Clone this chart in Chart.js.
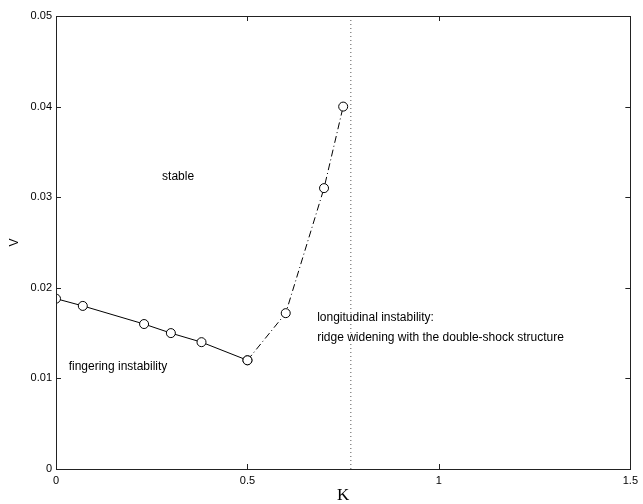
<!DOCTYPE html>
<html>
<head>
<meta charset="utf-8">
<script src="https://cdn.jsdelivr.net/npm/chart.js@4.4.1/dist/chart.umd.min.js"></script>
<style>
  html, body { margin: 0; padding: 0; background: #fff; }
  #wrap { width: 643px; height: 504px; }
</style>
</head>
<body>
<div id="wrap"><canvas id="chart"></canvas></div>
<script>
// fingering branch (solid line)
const fingerK = [0, 0.07, 0.23, 0.3, 0.38, 0.5];
const fingerV = [0.0188, 0.018, 0.016, 0.015, 0.014, 0.012];
// longitudinal branch (dash-dot line)
const longK = [0.5, 0.6, 0.7, 0.75];
const longV = [0.012, 0.0172, 0.031, 0.04];
// vertical dotted marker
const dottedK = [0.77, 0.77];
const dottedV = [0, 0.05];

const xTicks = [0, 0.5, 1, 1.5];
const xTickLabels = ['0', '0.5', '1', '1.5'];
const yTicks = [0, 0.01, 0.02, 0.03, 0.04, 0.05];
const yTickLabels = ['0', '0.01', '0.02', '0.03', '0.04', '0.05'];

// region labels, anchored at data coordinates (left edge, middle)
const notes = [
    { text: 'stable', k: 0.277, v: 0.0323 },
    { text: 'fingering instability', k: 0.033, v: 0.0113 },
    { text: 'longitudinal instability:', k: 0.682, v: 0.0167 },
    { text: 'ridge widening with the double-shock structure', k: 0.682, v: 0.0145 }
];

const toPoints = (xs, ys) => xs.map((x, i) => ({ x: x, y: ys[i] }));

const frame = {
    id: 'frame',
    afterDraw(chart) {
        const ctx = chart.ctx;
        const a = chart.chartArea;
        const xs = chart.scales.x, ys = chart.scales.y;
        ctx.save();
        ctx.strokeStyle = '#222';
        ctx.lineWidth = 1;
        ctx.strokeRect(Math.round(a.left) + 0.5, Math.round(a.top) + 0.5,
            Math.round(a.right - a.left), Math.round(a.bottom - a.top));
        ctx.beginPath();
        xTicks.forEach(t => {
            const px = Math.round(xs.getPixelForValue(t)) + 0.5;
            ctx.moveTo(px, a.bottom); ctx.lineTo(px, a.bottom - 5);
            ctx.moveTo(px, a.top); ctx.lineTo(px, a.top + 5);
        });
        yTicks.forEach(t => {
            const py = Math.round(ys.getPixelForValue(t)) + 0.5;
            ctx.moveTo(a.left, py); ctx.lineTo(a.left + 5, py);
            ctx.moveTo(a.right, py); ctx.lineTo(a.right - 5, py);
        });
        ctx.stroke();

        ctx.fillStyle = '#000';
        ctx.font = '12px "Liberation Sans", Arial, sans-serif';
        ctx.textAlign = 'left';
        ctx.textBaseline = 'middle';
        notes.forEach(n => {
            ctx.fillText(n.text, xs.getPixelForValue(n.k), ys.getPixelForValue(n.v));
        });
        ctx.restore();
    }
};

new Chart(document.getElementById('chart'), {
    type: 'scatter',
    data: {
        datasets: [
            {
                data: toPoints(dottedK, dottedV),
                showLine: true,
                borderColor: '#555',
                borderWidth: 1,
                borderDash: [1, 3],
                pointRadius: 0
            },
            {
                data: toPoints(longK, longV),
                showLine: true,
                borderColor: '#000',
                borderWidth: 1,
                borderDash: [7, 3, 1, 3],
                pointRadius: 4.5,
                pointBorderWidth: 1,
                pointBorderColor: '#000',
                pointBackgroundColor: '#fff'
            },
            {
                data: toPoints(fingerK, fingerV),
                showLine: true,
                borderColor: '#000',
                borderWidth: 1,
                pointRadius: 4.5,
                pointBorderWidth: 1,
                pointBorderColor: '#000',
                pointBackgroundColor: '#fff'
            }
        ]
    },
    options: {
        responsive: true,
        maintainAspectRatio: false,
        animation: false,
        layout: { padding: { left: 0, right: 10.5, top: 16, bottom: 0 } },
        plugins: { legend: { display: false }, tooltip: { enabled: false } },
        scales: {
            x: {
                type: 'linear',
                min: 0,
                max: 1.5,
                afterBuildTicks: s => { s.ticks = xTicks.map(v => ({ value: v })); },
                afterFit: s => { s.height = 35; },
                grid: { display: false, drawTicks: false, tickLength: 0 },
                border: { display: false },
                ticks: {
                    padding: 5,
                    color: '#000',
                    maxRotation: 0,
                    font: { family: '"Liberation Sans", Arial, sans-serif', size: 11 },
                    callback: (v, i) => xTickLabels[i]
                },
                title: {
                    display: true,
                    text: 'K',
                    color: '#000',
                    padding: { top: 0, bottom: 0 },
                    font: { family: '"Liberation Serif", "Times New Roman", serif', size: 17, lineHeight: 1 }
                }
            },
            y: {
                type: 'linear',
                min: 0,
                max: 0.05,
                afterBuildTicks: s => { s.ticks = yTicks.map(v => ({ value: v })); },
                afterFit: s => { s.width = 56; },
                grid: { display: false, drawTicks: false, tickLength: 0 },
                border: { display: false },
                ticks: {
                    padding: 4,
                    color: '#000',
                    font: { family: '"Liberation Sans", Arial, sans-serif', size: 11 },
                    callback: (v, i) => yTickLabels[i]
                },
                title: {
                    display: true,
                    text: 'V',
                    color: '#000',
                    padding: { top: 7, bottom: 0 },
                    font: { family: '"Liberation Sans", Arial, sans-serif', size: 12, lineHeight: 1.2 }
                }
            }
        }
    },
    plugins: [frame]
});
</script>
</body>
</html>
